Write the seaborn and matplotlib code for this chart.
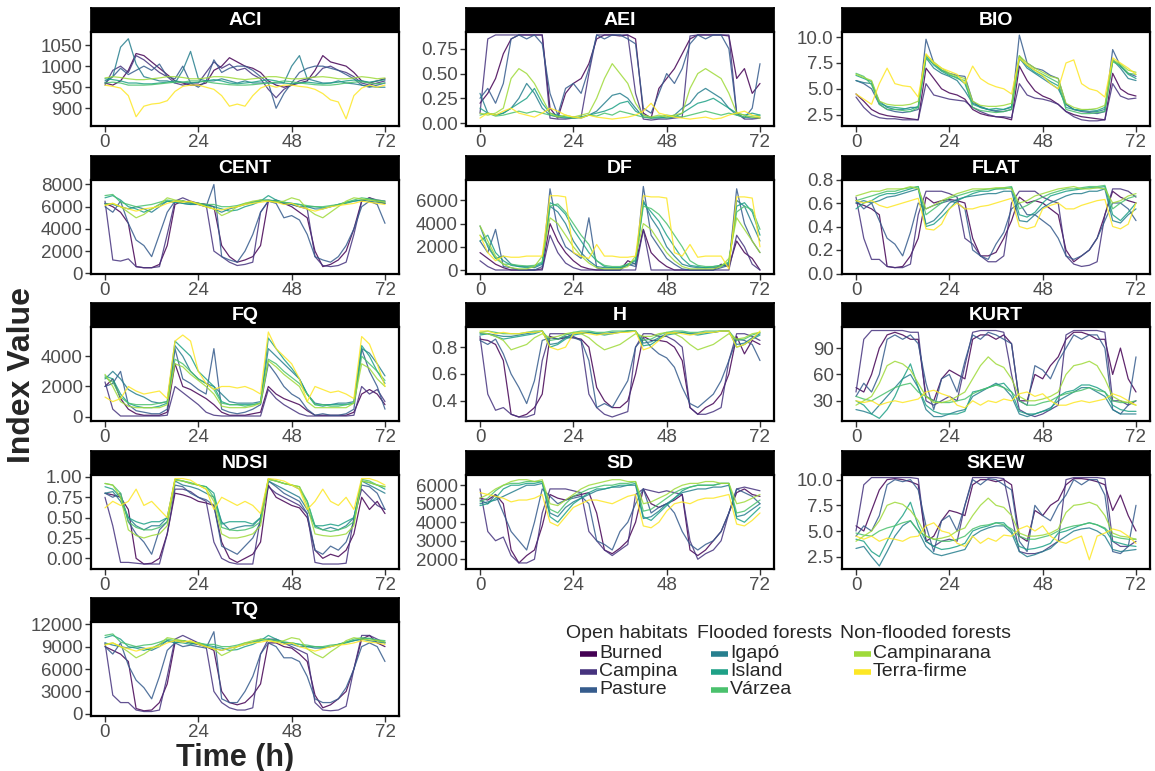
import pandas as pd
import matplotlib
matplotlib.use("Agg")
import matplotlib.pyplot as plt
from matplotlib.lines import Line2D
import seaborn as sns

# ---------------------------------------------------------------------------
# Data: acoustic index values every 2 h over a 72 h recording, per habitat
# ---------------------------------------------------------------------------
HOURS = list(range(0, 73, 2))
HABITATS = ["Burned", "Campina", "Pasture", "Igapó", "Island", "Várzea",
            "Campinarana", "Terra-firme"]
GROUPS = [("Open habitats", ["Burned", "Campina", "Pasture"]),
          ("Flooded forests", ["Igapó", "Island", "Várzea"]),
          ("Non-flooded forests", ["Campinarana", "Terra-firme"])]
COLORS = ["#440154", "#46337E", "#365C8D", "#277F8E", "#1FA187", "#4AC16D",
          "#9FDA3A", "#FDE725"]

ACI = {
    "Burned": [960,955,965,990,1030,1025,1010,995,980, 965,960,955,955,960,990,1000,1020,1010,1000,995,985, 965,955,950,955,960,965,990,1025,1010,1005,1000,985, 965,960,965,970],
    "Campina": [955,990,1000,985,1025,1015,1000,985,975, 960,955,960,960,985,1010,995,1005,990,995,980,970, 945,925,945,955,965,970,975,995,1000,990,985,975, 960,955,960,965],
    "Pasture": [960,975,995,980,990,1000,990,1005,975, 970,1000,960,950,965,1015,985,995,1000,1000,990,975, 960,900,935,960,985,995,1000,1000,995,990,980,970, 955,950,955,960],
    "Igapó": [965,975,1045,1065,1005,975,970,965,965, 960,990,1035,970,965,965,970,965,960,965,960,960, 960,960,960,1000,1025,970,965,960,960,965,960,958, 955,952,950,950],
    "Island": [970,968,965,960,960,958,958,960,962, 965,962,960,962,965,968,965,960,958,960,962,965, 968,965,960,958,960,962,960,958,960,962,965,967, 965,962,965,968],
    "Várzea": [960,962,960,955,955,955,956,958,960, 962,962,965,965,963,960,958,956,955,955,956,958, 960,962,965,963,960,958,956,955,955,957,960,962, 963,960,958,960],
    "Campinarana": [972,975,973,970,968,968,970,972,975, 975,973,970,970,972,975,975,973,970,968,970,972, 975,975,972,970,970,972,974,975,973,970,970,972, 975,973,970,972],
    "Terra-firme": [955,952,948,930,880,905,910,912,918, 940,952,955,955,950,945,930,905,910,905,930,948, 955,950,955,955,952,950,945,935,920,915,875,930, 948,955,950,955],
}

AEI = {
    "Burned": [0.2,0.3,0.45,0.7,0.85,0.89,0.89,0.89,0.89, 0.15,0.05,0.3,0.4,0.45,0.6,0.85,0.89,0.89,0.88,0.89,0.85, 0.1,0.05,0.35,0.45,0.55,0.7,0.85,0.89,0.89,0.89,0.89,0.88, 0.45,0.55,0.3,0.4],
    "Campina": [0.1,0.85,0.89,0.89,0.89,0.89,0.89,0.89,0.89, 0.05,0.04,0.04,0.05,0.06,0.5,0.89,0.89,0.89,0.89,0.89,0.3, 0.04,0.03,0.04,0.04,0.05,0.06,0.88,0.89,0.89,0.89,0.89,0.89, 0.1,0.04,0.04,0.05],
    "Pasture": [0.25,0.35,0.2,0.4,0.85,0.89,0.85,0.89,0.8, 0.3,0.08,0.35,0.4,0.3,0.55,0.89,0.85,0.89,0.89,0.85,0.8, 0.15,0.1,0.3,0.5,0.4,0.55,0.8,0.89,0.85,0.89,0.89,0.75, 0.1,0.05,0.15,0.6],
    "Igapó": [0.3,0.1,0.08,0.1,0.15,0.25,0.4,0.3,0.15, 0.08,0.06,0.05,0.06,0.05,0.08,0.12,0.2,0.28,0.3,0.25,0.15, 0.06,0.05,0.05,0.06,0.08,0.15,0.2,0.3,0.35,0.3,0.25,0.15, 0.08,0.06,0.05,0.06],
    "Island": [0.15,0.1,0.08,0.1,0.15,0.2,0.25,0.35,0.2, 0.1,0.08,0.06,0.05,0.06,0.08,0.1,0.12,0.15,0.2,0.22,0.12, 0.08,0.06,0.06,0.05,0.06,0.1,0.15,0.2,0.22,0.25,0.2,0.15, 0.1,0.08,0.1,0.08],
    "Várzea": [0.08,0.1,0.07,0.08,0.1,0.12,0.1,0.12,0.1, 0.08,0.07,0.06,0.05,0.06,0.08,0.07,0.1,0.08,0.12,0.1,0.08, 0.06,0.05,0.06,0.08,0.07,0.06,0.08,0.1,0.12,0.1,0.08,0.1, 0.08,0.06,0.07,0.08],
    "Campinarana": [0.1,0.08,0.1,0.15,0.45,0.55,0.5,0.4,0.25, 0.1,0.06,0.08,0.06,0.08,0.1,0.25,0.45,0.6,0.5,0.4,0.2, 0.08,0.06,0.08,0.06,0.08,0.1,0.35,0.5,0.55,0.5,0.45,0.3, 0.1,0.08,0.06,0.05],
    "Terra-firme": [0.05,0.1,0.08,0.12,0.15,0.1,0.08,0.06,0.1, 0.15,0.12,0.08,0.06,0.05,0.08,0.06,0.05,0.04,0.05,0.06,0.08, 0.12,0.2,0.1,0.08,0.06,0.05,0.04,0.05,0.06,0.04,0.05,0.08, 0.1,0.12,0.08,0.06],
}

BIO = {
    "Burned": [4.5,3.8,3.0,2.6,2.4,2.3,2.2,2.1,2.0, 7.0,6.0,5.0,4.6,4.4,4.0,3.0,2.6,2.4,2.3,2.2,2.0, 7.2,5.8,4.8,4.3,4.0,3.5,2.8,2.5,2.3,2.2,2.1,2.0, 6.5,5.0,4.5,4.3],
    "Campina": [4.2,3.2,2.5,2.2,2.1,2.1,2.0,2.0,2.0, 5.5,4.4,4.2,4.0,3.9,3.8,3.2,2.8,2.5,2.3,2.3,2.2, 5.5,4.4,4.1,4.0,3.8,3.5,2.8,2.3,2.0,1.9,1.9,2.0, 5.5,4.3,4.0,4.1],
    "Pasture": [5.8,5.5,5.0,3.5,3.0,2.8,2.7,2.8,3.0, 9.8,7.5,6.8,6.5,6.3,6.2,3.8,3.2,3.0,2.8,2.8,3.0, 10.2,7.5,7.0,6.8,6.3,6.0,3.5,3.0,2.8,2.7,2.6,2.8, 8.8,7.2,6.5,6.2],
    "Igapó": [5.8,5.6,5.5,3.8,3.2,3.0,3.0,3.2,3.2, 8.0,7.0,6.5,6.2,5.8,4.8,3.6,3.3,3.0,2.9,3.0,3.2, 8.0,7.0,6.5,6.0,5.5,5.0,3.5,3.0,2.9,2.8,2.8,3.0, 7.8,7.0,6.0,5.8],
    "Island": [6.3,6.0,5.7,3.6,3.3,3.2,3.1,3.0,3.3, 8.2,7.3,6.7,6.3,6.1,5.5,3.5,3.2,3.0,3.1,3.0,3.3, 8.2,7.2,6.6,6.2,5.7,5.3,3.2,3.0,2.9,3.0,2.9,3.2, 7.8,7.2,6.4,6.0],
    "Várzea": [6.5,6.2,5.4,3.5,3.0,3.0,2.9,2.8,3.2, 8.0,7.4,6.8,6.4,6.0,5.8,3.2,2.9,2.8,2.7,2.8,3.0, 7.9,7.3,6.8,6.4,6.0,5.6,3.0,2.8,2.6,2.6,2.7,2.8, 7.6,7.3,6.5,6.4],
    "Campinarana": [6.4,6.1,5.8,3.8,3.5,3.4,3.4,3.5,3.8, 8.3,7.6,7.0,6.5,6.2,6.0,3.8,3.4,3.3,3.3,3.4,3.6, 8.2,7.5,7.0,6.6,6.2,6.0,3.6,3.2,3.0,3.0,3.1,3.4, 7.8,7.4,6.8,6.6],
    "Terra-firme": [4.5,4.0,3.5,5.5,7.0,5.5,5.3,5.2,4.2, 8.4,7.5,7.0,6.7,6.4,5.5,7.2,6.0,5.5,5.2,5.0,4.5, 8.0,7.3,6.8,6.3,5.5,5.0,7.5,7.8,5.5,5.0,4.8,4.2, 8.0,7.5,7.0,6.4],
}

CENT = {
    "Burned": [6300,6000,5500,4500,600,500,500,800,2500, 6200,6500,6400,6300,6200,6000,2500,1500,1000,1200,1500,2500, 6500,6500,6300,6000,5500,5000,2000,600,800,1200,2000,4000, 6500,6800,6500,6300],
    "Campina": [6500,1200,1100,1300,600,500,500,600,3500, 6500,6800,6500,6300,6200,2000,1500,1000,700,800,1000,5500, 6500,6600,6300,6200,6000,5800,1500,700,600,700,1000,3500, 6500,6800,6600,6500],
    "Pasture": [6000,5500,6500,4500,3000,2500,1500,3500,5500, 6500,6300,6200,6200,6000,8000,1500,1200,1000,2000,3500,5500, 6500,6300,5000,5200,4800,3500,1500,1200,1000,1500,2500,4000, 6000,6500,6200,4500],
    "Igapó": [6300,6200,6000,5800,6000,5800,5500,6000,6500, 6400,6500,6300,6200,6000,5800,5500,5800,6000,6200,6400,6600, 6600,6500,6300,6200,6000,6000,5800,5800,6000,6200,6400,6500, 6600,6500,6400,6300],
    "Island": [6800,7000,6600,6000,5800,5500,5800,6200,6500, 6400,6300,6200,6300,6100,6000,5800,5600,5700,6000,6200,6500, 7000,6600,6400,6300,6200,6000,6000,5900,6000,6200,6300,6500, 6600,6700,6500,6400],
    "Várzea": [7000,7100,6400,6200,6000,6100,6200,6400,6600, 6500,6500,6400,6300,6200,6200,6000,6000,6100,6300,6400,6500, 6600,6500,6400,6300,6200,6100,6000,6000,6100,6200,6400,6600, 6800,6700,6600,6500],
    "Campinarana": [6200,6300,6000,5500,5000,5300,5800,6200,6800, 6600,6500,6400,6300,6000,5800,5200,5500,6000,6300,6500,6600, 6500,6400,6500,6800,6600,5800,5300,5000,5500,6000,6500,6800, 6700,6600,6500,6400],
    "Terra-firme": [6100,6300,6000,5800,5600,5800,5900,6000,6300, 6500,6400,6500,6200,6000,5800,5700,5900,6000,6200,6300,6400, 6500,6400,6200,6300,6000,5800,5600,5800,6000,6100,6200,6300, 6500,6400,6300,6200],
}

DF = {
    "Burned": [1500,1000,500,200,0,0,0,0,100, 4000,2500,1500,800,300,100,0,0,0,0,800,500, 3500,1500,800,300,0,0,0,0,0,0,500,300, 2500,1500,1000,0],
    "Campina": [800,300,0,0,0,0,0,0,0, 3000,1500,600,200,0,0,0,0,0,0,0,0, 3500,0,0,0,0,0,0,0,0,0,0,0, 3000,2000,500,0],
    "Pasture": [2500,1500,3500,300,200,0,0,0,300, 7000,3500,2000,1500,1000,4500,200,0,0,0,500,300, 7200,3000,2000,1000,500,100,0,0,0,0,200,400, 7000,4000,2500,1500],
    "Igapó": [3800,2000,1000,1200,500,300,300,200,500, 5500,5000,4000,2500,1500,800,300,200,200,200,400,600, 6000,4500,3500,2000,1200,500,300,200,200,200,300,500, 6000,5500,4000,2500],
    "Island": [2500,3000,1500,800,400,300,200,300,600, 5800,5500,4800,3500,2500,1500,800,300,200,200,500,800, 5800,5000,4200,3000,2000,1000,400,300,200,300,400,600, 5500,5800,5000,3000],
    "Várzea": [3000,2200,1000,500,500,400,350,400,700, 5500,5700,5000,4000,3000,2200,800,400,300,300,500,900, 5500,5300,4800,4000,3000,2000,800,400,300,300,400,700, 5000,5500,5200,3500],
    "Campinarana": [3800,2500,1200,500,200,100,100,300,1200, 4500,4000,3000,2000,1200,600,200,100,100,100,300,1200, 4000,3500,2500,1500,800,300,100,100,100,100,300,1000, 4500,3500,2500,1500],
    "Terra-firme": [3000,1500,800,1200,1100,1100,1200,1200,1200, 6400,6400,6300,1500,1200,1000,2200,1200,1200,1100,1100,1200, 6400,6300,6300,6200,1500,1200,2200,1100,1200,1200,1200,100, 6300,6300,6200,2000],
}

FLAT = {
    "Burned": [0.6,0.58,0.55,0.5,0.06,0.05,0.06,0.15,0.3, 0.65,0.6,0.62,0.63,0.62,0.6,0.3,0.15,0.15,0.18,0.3,0.45, 0.65,0.6,0.62,0.6,0.55,0.5,0.2,0.1,0.15,0.2,0.3,0.5, 0.7,0.65,0.62,0.6],
    "Campina": [0.65,0.3,0.12,0.12,0.06,0.05,0.05,0.08,0.5, 0.7,0.7,0.7,0.68,0.65,0.3,0.25,0.15,0.1,0.1,0.15,0.6, 0.7,0.7,0.7,0.65,0.62,0.6,0.15,0.08,0.06,0.07,0.1,0.5, 0.72,0.72,0.7,0.65],
    "Pasture": [0.62,0.55,0.6,0.45,0.3,0.25,0.15,0.35,0.6, 0.55,0.58,0.6,0.62,0.6,0.55,0.2,0.15,0.12,0.25,0.35,0.55, 0.6,0.5,0.5,0.45,0.4,0.3,0.15,0.12,0.15,0.2,0.3,0.45, 0.6,0.6,0.55,0.45],
    "Igapó": [0.6,0.62,0.6,0.62,0.65,0.66,0.68,0.7,0.72, 0.42,0.45,0.52,0.6,0.63,0.65,0.66,0.67,0.68,0.68,0.7,0.7, 0.45,0.44,0.5,0.56,0.6,0.63,0.66,0.68,0.68,0.7,0.7,0.72, 0.45,0.43,0.5,0.55],
    "Island": [0.55,0.6,0.62,0.66,0.68,0.68,0.7,0.72,0.74, 0.4,0.42,0.48,0.55,0.62,0.65,0.68,0.7,0.7,0.72,0.72,0.73, 0.5,0.48,0.52,0.6,0.66,0.68,0.7,0.71,0.72,0.73,0.73,0.74, 0.5,0.45,0.52,0.6],
    "Várzea": [0.62,0.64,0.66,0.68,0.7,0.7,0.72,0.73,0.74, 0.5,0.55,0.6,0.64,0.66,0.68,0.7,0.71,0.72,0.72,0.73,0.74, 0.55,0.58,0.62,0.65,0.68,0.7,0.72,0.72,0.73,0.74,0.74,0.75, 0.55,0.6,0.64,0.66],
    "Campinarana": [0.66,0.68,0.7,0.7,0.72,0.72,0.72,0.74,0.72, 0.55,0.58,0.62,0.65,0.68,0.7,0.72,0.72,0.72,0.73,0.73,0.72, 0.6,0.62,0.66,0.68,0.7,0.72,0.73,0.74,0.72,0.72,0.73,0.72, 0.6,0.62,0.66,0.68],
    "Terra-firme": [0.62,0.6,0.62,0.58,0.56,0.58,0.6,0.62,0.64, 0.38,0.37,0.42,0.55,0.6,0.55,0.55,0.57,0.58,0.6,0.62,0.64, 0.4,0.38,0.4,0.55,0.58,0.6,0.55,0.55,0.58,0.6,0.62,0.63, 0.4,0.38,0.42,0.6],
}

FQ = {
    "Burned": [2000,2500,1200,500,200,100,100,100,300, 3500,2000,1800,1500,1200,800,300,100,100,100,200,300, 2000,1500,1200,1000,800,400,100,100,100,100,100,300, 1500,1800,1500,800],
    "Campina": [2300,500,50,50,50,50,50,50,100, 2000,1600,1200,800,300,100,50,50,50,50,50,50, 1800,1200,800,500,200,50,50,50,50,50,50,100, 2000,1500,1800,1000],
    "Pasture": [2000,2200,3000,800,400,300,200,200,500, 4500,2500,2200,1800,1500,4500,500,300,200,300,500,800, 3500,2800,2000,1500,1200,500,100,200,100,100,200,500, 4500,3000,2000,500],
    "Igapó": [2500,3000,2500,1800,1500,1300,1000,900,1000, 4700,4000,3000,2500,2200,2000,1500,1000,900,900,900,1000, 4500,4000,3500,3000,2500,1500,900,800,800,900,900,1000, 4500,4200,3500,2700],
    "Island": [2700,2500,1500,900,700,600,600,700,900, 5000,4500,4000,3000,2500,2000,1000,800,800,800,800,900, 5200,4500,3800,3200,2500,1500,800,700,800,800,800,900, 4700,4000,3000,2200],
    "Várzea": [2600,2300,1300,900,800,800,800,900,1000, 3800,3500,3000,2500,2200,1800,900,800,800,700,800,900, 3800,3500,3000,2600,2200,1500,800,800,700,700,800,900, 4000,3500,3000,2400],
    "Campinarana": [2800,2000,1000,700,600,600,600,600,800, 3500,3300,2800,2400,2000,1500,700,600,600,600,700,900, 3700,3300,2800,2400,2000,1000,600,600,600,600,600,900, 3500,3200,2500,2000],
    "Terra-firme": [1300,1000,1200,2000,1700,1500,1600,1700,1200, 5000,5400,5000,3000,2200,1800,2000,2000,1900,2000,1800,1500, 5600,4500,4000,3500,2500,1000,2000,1800,1600,1700,1500,1200, 5300,4800,3500,2000],
}

H = {
    "Burned": [0.86,0.85,0.82,0.7,0.3,0.28,0.3,0.35,0.45, 0.88,0.86,0.87,0.87,0.86,0.8,0.5,0.4,0.35,0.35,0.4,0.6, 0.88,0.85,0.85,0.84,0.8,0.7,0.35,0.3,0.35,0.38,0.45,0.6, 0.88,0.75,0.85,0.82],
    "Campina": [0.88,0.45,0.33,0.35,0.3,0.28,0.28,0.3,0.7, 0.9,0.9,0.9,0.88,0.85,0.45,0.35,0.3,0.28,0.3,0.32,0.8, 0.9,0.9,0.88,0.88,0.85,0.8,0.35,0.3,0.3,0.32,0.35,0.7, 0.9,0.9,0.88,0.85],
    "Pasture": [0.85,0.82,0.86,0.75,0.6,0.5,0.38,0.55,0.85, 0.87,0.86,0.88,0.87,0.85,0.7,0.35,0.38,0.35,0.45,0.55,0.8, 0.87,0.8,0.75,0.72,0.65,0.5,0.38,0.35,0.4,0.45,0.55,0.7, 0.86,0.85,0.82,0.7],
    "Igapó": [0.9,0.9,0.89,0.88,0.88,0.89,0.9,0.91,0.92, 0.82,0.83,0.87,0.9,0.91,0.91,0.9,0.9,0.91,0.91,0.92,0.92, 0.83,0.84,0.87,0.9,0.91,0.91,0.9,0.9,0.91,0.91,0.92,0.92, 0.82,0.83,0.87,0.9],
    "Island": [0.89,0.9,0.88,0.86,0.87,0.88,0.89,0.9,0.92, 0.8,0.82,0.86,0.89,0.9,0.91,0.9,0.89,0.9,0.91,0.92,0.92, 0.81,0.82,0.86,0.89,0.9,0.91,0.9,0.89,0.9,0.91,0.92,0.92, 0.8,0.82,0.86,0.89],
    "Várzea": [0.91,0.92,0.91,0.9,0.9,0.9,0.91,0.92,0.92, 0.85,0.86,0.89,0.91,0.92,0.92,0.91,0.91,0.92,0.92,0.92,0.92, 0.85,0.86,0.89,0.91,0.92,0.92,0.91,0.91,0.92,0.92,0.92,0.92, 0.85,0.86,0.89,0.91],
    "Campinarana": [0.91,0.9,0.88,0.85,0.78,0.8,0.82,0.87,0.9, 0.87,0.88,0.9,0.91,0.9,0.87,0.82,0.78,0.8,0.82,0.86,0.9, 0.88,0.88,0.9,0.91,0.9,0.87,0.82,0.78,0.8,0.82,0.86,0.9, 0.86,0.87,0.9,0.91],
    "Terra-firme": [0.92,0.92,0.9,0.91,0.9,0.9,0.91,0.91,0.92, 0.8,0.78,0.8,0.9,0.91,0.9,0.89,0.9,0.9,0.91,0.91,0.92, 0.78,0.8,0.85,0.9,0.91,0.9,0.89,0.9,0.91,0.91,0.92,0.92, 0.8,0.82,0.86,0.92],
}

KURT = {
    "Burned": [45,40,60,90,105,108,105,100,100, 35,30,55,65,60,55,100,105,105,100,105,95, 30,30,60,55,70,80,100,108,108,105,100,100, 60,90,55,40],
    "Campina": [40,100,110,110,110,110,110,108,108, 30,25,30,35,30,70,108,110,110,110,108,60, 20,15,12,15,20,25,105,110,110,110,110,108, 30,30,25,30],
    "Pasture": [35,50,40,60,100,105,100,105,95, 50,20,55,60,40,75,105,100,108,105,100,95, 30,25,70,65,55,75,90,105,100,105,105,90, 20,15,25,80],
    "Igapó": [20,18,15,25,35,45,55,60,45, 20,12,12,15,18,20,35,40,45,50,45,35, 15,12,15,18,22,30,35,40,45,45,40,35, 20,15,15,15],
    "Island": [30,25,15,10,20,35,55,72,45, 25,18,15,15,15,18,40,42,45,48,50,40, 18,15,15,18,20,35,40,42,48,48,45,40, 25,20,18,18],
    "Várzea": [35,32,30,35,40,45,48,50,40, 35,30,28,28,30,32,38,42,45,48,45,40, 30,25,25,28,30,35,38,40,42,45,42,40, 30,28,28,30],
    "Campinarana": [25,30,35,50,70,75,72,65,50, 35,28,28,30,35,40,55,70,80,72,68,55, 35,30,30,32,35,40,60,70,72,75,70,55, 35,30,28,25],
    "Terra-firme": [30,28,30,25,28,30,28,30,32, 40,42,38,35,25,22,30,25,30,28,32,30, 38,40,35,38,30,25,25,28,30,28,30,32, 38,35,30,25],
}

NDSI = {
    "Burned": [0.8,0.78,0.75,0.6,0.0,-0.07,-0.06,0.0,0.3, 0.8,0.78,0.75,0.7,0.68,0.65,0.2,0.0,-0.05,0.0,0.05,0.2, 0.9,0.75,0.7,0.65,0.62,0.5,0.1,0.0,0.05,0.02,0.1,0.3, 0.75,0.6,0.7,0.55],
    "Campina": [0.75,0.4,-0.05,-0.05,-0.06,-0.07,-0.07,-0.07,0.3, 0.85,0.85,0.82,0.75,0.7,0.2,0.0,-0.05,-0.07,-0.07,-0.07,0.5, 0.88,0.8,0.75,0.7,0.65,0.55,-0.05,-0.07,-0.07,-0.07,-0.06,0.5, 0.85,0.75,0.65,0.6],
    "Pasture": [0.8,0.75,0.8,0.45,0.3,0.2,0.05,0.35,0.45, 0.9,0.88,0.8,0.75,0.72,0.65,0.15,0.1,0.05,0.15,0.25,0.45, 0.95,0.88,0.8,0.75,0.7,0.55,0.1,0.05,0.15,0.1,0.2,0.45, 0.9,0.88,0.8,0.6],
    "Igapó": [0.8,0.82,0.7,0.5,0.4,0.35,0.4,0.4,0.5, 0.95,0.9,0.88,0.85,0.8,0.75,0.45,0.35,0.38,0.4,0.4,0.5, 0.95,0.9,0.85,0.8,0.75,0.6,0.4,0.35,0.38,0.35,0.4,0.5, 0.95,0.9,0.85,0.8],
    "Island": [0.88,0.85,0.75,0.5,0.45,0.42,0.45,0.45,0.5, 0.97,0.95,0.92,0.9,0.88,0.8,0.42,0.45,0.45,0.45,0.42,0.5, 0.97,0.95,0.92,0.9,0.85,0.7,0.4,0.4,0.42,0.4,0.45,0.5, 0.95,0.93,0.9,0.85],
    "Várzea": [0.92,0.9,0.8,0.45,0.38,0.35,0.35,0.38,0.45, 0.97,0.95,0.93,0.9,0.88,0.75,0.38,0.35,0.34,0.35,0.38,0.45, 0.98,0.95,0.92,0.9,0.88,0.7,0.38,0.35,0.33,0.35,0.38,0.45, 0.97,0.95,0.9,0.88],
    "Campinarana": [0.92,0.9,0.75,0.35,0.28,0.25,0.28,0.3,0.4, 0.96,0.95,0.92,0.9,0.85,0.7,0.3,0.25,0.25,0.27,0.3,0.4, 0.97,0.95,0.92,0.9,0.88,0.65,0.3,0.28,0.27,0.28,0.3,0.4, 0.95,0.93,0.9,0.88],
    "Terra-firme": [0.62,0.7,0.65,0.7,0.85,0.65,0.7,0.6,0.5, 0.98,0.98,0.96,0.9,0.85,0.6,0.75,0.7,0.65,0.7,0.65,0.55, 0.98,0.97,0.95,0.9,0.85,0.6,0.7,0.85,0.7,0.65,0.75,0.6, 0.98,0.98,0.95,0.9],
}

SD = {
    "Burned": [5300,5200,5500,5000,2500,1800,2200,2500,3800, 5500,5300,5200,5400,5500,5600,4500,2500,2300,2600,3000,4000, 5800,5000,4800,5000,5200,5500,2500,2200,2500,3000,3500,4500, 5600,5800,5500,5400],
    "Campina": [5800,3500,3000,3200,2200,1800,1800,2000,4500, 5800,5800,5800,5700,5600,3500,3000,2500,2200,2500,2800,5500, 5800,5700,5600,5700,5600,5500,3000,2000,2300,2500,3000,4500, 5800,5900,5800,5700],
    "Pasture": [5200,5000,5500,4500,3500,3000,2500,4000,5800, 5400,5000,5200,5300,5400,5000,3000,2800,2500,3500,4000,5000, 5800,4500,4800,5000,4500,3500,2800,2500,2800,3000,3500,4500, 5800,5600,5400,5000],
    "Igapó": [5000,5100,5200,5400,5600,5800,6000,6000,6100, 4500,4300,4800,5100,5300,5500,5700,5800,5900,5900,6000,6000, 4200,4300,4600,5000,5300,5600,5700,5800,5800,5900,5900,6000, 4300,4400,4700,5000],
    "Island": [4900,5000,5300,5800,6000,6000,6100,6100,6200, 4300,4000,4500,5000,5300,5600,5800,5800,5900,6000,6000,6100, 4300,4100,4500,4900,5300,5700,5900,6000,6000,6000,6100,6100, 4200,4000,4400,4800],
    "Várzea": [5100,5300,5700,6000,6100,6100,6200,6200,6200, 4700,4500,5000,5400,5600,5800,5900,6000,6000,6100,6100,6200, 4600,4700,5000,5300,5600,5800,5900,6000,6000,6000,6100,6100, 4500,4600,4900,5200],
    "Campinarana": [5300,5500,5800,6000,6200,6300,6300,6200,6300, 5000,4900,5200,5500,5800,6000,6100,6200,6300,6300,6200,6200, 5000,5100,5300,5500,5800,6000,6100,6100,6200,6200,6100,6100, 5000,5100,5300,5500],
    "Terra-firme": [5600,5500,5400,5300,5100,5200,5200,5300,5500, 4000,3800,4300,4800,5000,5200,5200,5100,5000,5200,5400,5500, 3800,3700,4000,4600,5000,5100,5000,5200,5300,5300,5400,5500, 3900,3800,4100,4500],
}

SKEW = {
    "Burned": [5.5,5.0,7.0,9.0,10.0,10.1,10.0,9.8,9.5, 4.0,4.5,6.0,7.0,6.8,6.5,9.5,10.0,10.0,9.8,10.0,9.5, 4.5,4.0,7.0,6.5,7.5,8.0,9.5,10.1,10.1,10.0,9.8,9.5, 7.0,8.5,6.5,5.0],
    "Campina": [5.0,9.5,10.2,10.2,10.2,10.2,10.2,10.2,10.1, 4.0,3.5,4.0,4.2,4.0,7.5,10.2,10.2,10.2,10.2,10.1,6.5, 3.0,2.8,2.8,3.0,3.5,4.0,10.0,10.2,10.2,10.2,10.2,10.1, 4.0,3.5,3.5,4.0],
    "Pasture": [4.5,5.5,5.0,6.5,9.5,10.0,9.8,10.0,9.0, 5.5,3.0,6.0,6.5,5.0,7.5,10.0,9.5,10.1,10.0,9.5,9.0, 4.0,3.0,7.5,6.5,6.0,7.5,8.5,10.0,9.5,10.0,10.0,8.5, 3.0,2.8,3.5,7.5],
    "Igapó": [3.3,3.5,2.5,1.6,3.0,4.5,5.5,6.0,5.0, 3.5,2.8,2.6,2.8,3.0,3.2,4.5,5.0,5.3,5.5,5.5,4.8, 3.0,2.5,2.7,3.0,3.3,4.0,4.5,5.0,5.2,5.3,5.0,4.5, 3.2,3.0,3.1,3.2],
    "Island": [4.2,4.0,3.0,2.5,4.0,5.5,6.5,7.8,5.5, 4.0,3.5,3.2,3.3,3.5,3.8,5.0,5.3,5.5,5.8,5.8,5.0, 3.5,3.2,3.3,3.5,3.8,4.8,5.0,5.3,5.6,5.8,5.6,5.2, 4.0,3.8,3.6,3.5],
    "Várzea": [4.8,4.6,4.5,5.0,5.3,5.5,5.8,6.0,5.0, 4.5,4.2,4.0,4.0,4.2,4.5,5.2,5.5,5.6,5.8,5.6,5.2, 4.5,4.2,4.2,4.4,4.6,5.0,5.3,5.5,5.6,5.8,5.6,5.3, 4.5,4.3,4.2,4.2],
    "Campinarana": [4.0,4.5,5.0,6.0,7.5,7.8,7.6,7.0,6.0, 4.5,4.2,4.3,4.5,5.0,5.3,6.5,7.5,8.2,7.5,7.3,6.5, 4.8,4.5,4.5,4.6,4.8,5.2,6.8,7.5,7.6,7.8,7.5,6.5, 4.8,4.5,4.4,4.2],
    "Terra-firme": [4.5,4.2,4.5,4.0,4.3,4.2,4.0,4.4,4.5, 5.5,5.8,5.0,4.8,3.8,3.5,4.5,3.8,4.3,4.0,4.6,4.5, 5.2,5.5,5.0,5.5,4.5,4.0,3.8,4.2,4.5,2.2,4.5,4.8, 5.2,5.0,4.5,3.8],
}

TQ = {
    "Burned": [9000,8500,8000,7000,700,400,500,1500,4000, 9500,9800,9500,9300,9000,8500,3000,1500,1200,1500,2500,4000, 9500,9500,9000,8800,8000,7000,2500,800,1200,2000,3000,6000, 10000,10500,9500,9000],
    "Campina": [9500,2500,1500,1500,500,300,300,500,5000, 10000,10500,10000,9500,9000,3000,1500,800,500,500,800,8000, 10000,10000,9500,9000,8500,8000,1500,500,400,500,1000,6000, 10500,10500,10000,9500],
    "Pasture": [9000,8000,9500,6500,4500,3500,2000,5000,8500, 9500,9000,9200,9000,8800,11000,2000,1500,1500,3000,5000,8000, 9500,9000,7500,7500,7000,5000,2000,1500,1500,2000,3500,6000, 9000,9500,9000,7000],
    "Igapó": [9500,9200,9000,8800,9000,8800,8500,9000,9800, 9500,9800,9500,9300,9000,8800,8500,8800,9000,9300,9600,10000, 10000,9800,9500,9300,9000,9000,8800,8800,9000,9300,9600,9800, 10000,9800,9600,9500],
    "Island": [10200,10500,10000,9000,8800,8500,8800,9300,9800, 9600,9500,9300,9500,9200,9000,8800,8500,8600,9000,9300,9800, 10500,10000,9600,9500,9300,9000,9000,8900,9000,9300,9500,9800, 10000,10100,9800,9600],
    "Várzea": [10500,10700,9600,9300,9000,9200,9300,9600,10000, 9800,9800,9600,9500,9300,9300,9000,9000,9200,9500,9600,9800, 10000,9800,9600,9500,9300,9200,9000,9000,9200,9300,9600,10000, 10200,10100,9900,9800],
    "Campinarana": [9300,9500,9000,8300,7500,8000,8700,9300,10200, 10000,9800,9600,9500,9000,8700,7800,8300,9000,9500,9800,10000, 9800,9600,9800,10200,10000,8700,8000,7500,8300,9000,9800,10200, 10000,9900,9800,9600],
    "Terra-firme": [9200,9500,9000,8700,8400,8700,8900,9000,9500, 9800,9600,9800,9300,9000,8700,8500,8800,9000,9300,9500,9600, 9800,9600,9300,9500,9000,8700,8400,8700,9000,9200,9300,9500, 9800,9600,9500,9300],
}

INDICES = [("ACI", ACI), ("AEI", AEI), ("BIO", BIO), ("CENT", CENT),
           ("DF", DF), ("FLAT", FLAT), ("FQ", FQ), ("H", H), ("KURT", KURT),
           ("NDSI", NDSI), ("SD", SD), ("SKEW", SKEW), ("TQ", TQ)]

# y-axis breaks, labels and limits for each facet
Y_TICKS = {
    "ACI": [900, 950, 1000, 1050], "AEI": [0, 0.25, 0.5, 0.75],
    "BIO": [2.5, 5, 7.5, 10], "CENT": [0, 2000, 4000, 6000, 8000],
    "DF": [0, 2000, 4000, 6000], "FLAT": [0, 0.2, 0.4, 0.6, 0.8],
    "FQ": [0, 2000, 4000], "H": [0.4, 0.6, 0.8], "KURT": [30, 60, 90],
    "NDSI": [0, 0.25, 0.5, 0.75, 1], "SD": [2000, 3000, 4000, 5000, 6000],
    "SKEW": [2.5, 5, 7.5, 10], "TQ": [0, 3000, 6000, 9000, 12000],
}
Y_FMT = {"AEI": "{:.2f}", "NDSI": "{:.2f}", "BIO": "{:.1f}", "SKEW": "{:.1f}",
         "FLAT": "{:.1f}", "H": "{:.1f}"}
Y_LIMS = {
    "ACI": (858, 1081), "AEI": (-0.03, 0.92), "BIO": (1.4, 10.5),
    "CENT": (-20, 8450), "DF": (-300, 7800), "FLAT": (0.0, 0.8),
    "FQ": (-280, 5930), "H": (0.25, 0.95), "KURT": (7, 114),
    "NDSI": (-0.125, 1.03), "SD": (1500, 6580), "SKEW": (1.35, 10.5),
    "TQ": (-300, 12300),
}

# long-format table for seaborn
records = []
for name, table in INDICES:
    for hab in HABITATS:
        for t, v in zip(HOURS, table[hab]):
            records.append({"index": name, "habitat": hab, "time": t, "value": v})
data = pd.DataFrame.from_records(records)

# ---------------------------------------------------------------------------
# Figure
# ---------------------------------------------------------------------------
sns.set_theme(style="white")
plt.rcParams["font.family"] = ["Liberation Sans", "DejaVu Sans"]

W, HGT = 1155, 771
fig = plt.figure(figsize=(W / 100, HGT / 100), dpi=100)

COL_LEFT = [91, 466, 842]
ROW_TOP = [8, 155.5, 303, 450.5, 598]
PANEL_W, STRIP_H, PANEL_H = 308, 24, 94
TICK_GREY = "#4D4D4D"

for i, (name, _) in enumerate(INDICES):
    r, c = divmod(i, 3)
    left = COL_LEFT[c]
    top = ROW_TOP[r]

    ax = fig.add_axes([left / W, 1 - (top + STRIP_H + PANEL_H) / HGT,
                       PANEL_W / W, PANEL_H / HGT])
    sub = data[data["index"] == name]
    sns.lineplot(data=sub, x="time", y="value", hue="habitat",
                 hue_order=HABITATS, palette=COLORS, linewidth=0.9, alpha=0.85,
                 estimator=None, errorbar=None, legend=False, ax=ax)
    ax.set_xlim(-3.6, 75.6)
    ax.set_ylim(*Y_LIMS[name])
    ax.set_xticks([0, 24, 48, 72])
    ax.set_xticklabels(["0", "24", "48", "72"])
    ticks = Y_TICKS[name]
    fmt = Y_FMT.get(name, "{:.0f}")
    ax.set_yticks(ticks)
    ax.set_yticklabels([fmt.format(v) for v in ticks])
    ax.set_xlabel("")
    ax.set_ylabel("")
    ax.tick_params(direction="out", length=4, width=1, color="#333333",
                   labelcolor=TICK_GREY, labelsize=13.5, pad=2,
                   bottom=True, left=True)
    for sp in ax.spines.values():
        sp.set_color("black")
        sp.set_linewidth(1.6)

    sax = fig.add_axes([left / W, 1 - (top + STRIP_H) / HGT,
                        PANEL_W / W, STRIP_H / HGT])
    sax.set_facecolor("black")
    sax.set_xticks([])
    sax.set_yticks([])
    for sp in sax.spines.values():
        sp.set_color("black")
    sax.text(0.5, 0.47, name, color="white", fontsize=14, fontweight="bold",
             ha="center", va="center", transform=sax.transAxes)

# axis titles
fig.text(22 / W, 1 - 375 / HGT, "Index Value", rotation=90, fontsize=23,
         fontweight="bold", ha="center", va="center")
fig.text(235 / W, 1 - 766 / HGT, "Time (h)", fontsize=22, fontweight="bold",
         ha="center", va="baseline")

# grouped legend
color_of = dict(zip(HABITATS, COLORS))
GROUP_X = [566, 697, 840]
TITLE_Y = 633
ROW_Y0, ROW_DY = 654, 18
for gx, (title, members) in zip(GROUP_X, GROUPS):
    fig.text(gx / W, 1 - TITLE_Y / HGT, title, fontsize=14, ha="left",
             va="center")
    for k, hab in enumerate(members):
        y = 1 - (ROW_Y0 + k * ROW_DY) / HGT
        fig.add_artist(Line2D([(gx + 14) / W, (gx + 31) / W], [y, y],
                              transform=fig.transFigure, color=color_of[hab],
                              linewidth=4, solid_capstyle="butt"))
        fig.text((gx + 33) / W, y, hab, fontsize=14, ha="left", va="center")

fig.savefig("out.png", dpi=100, facecolor="white")
